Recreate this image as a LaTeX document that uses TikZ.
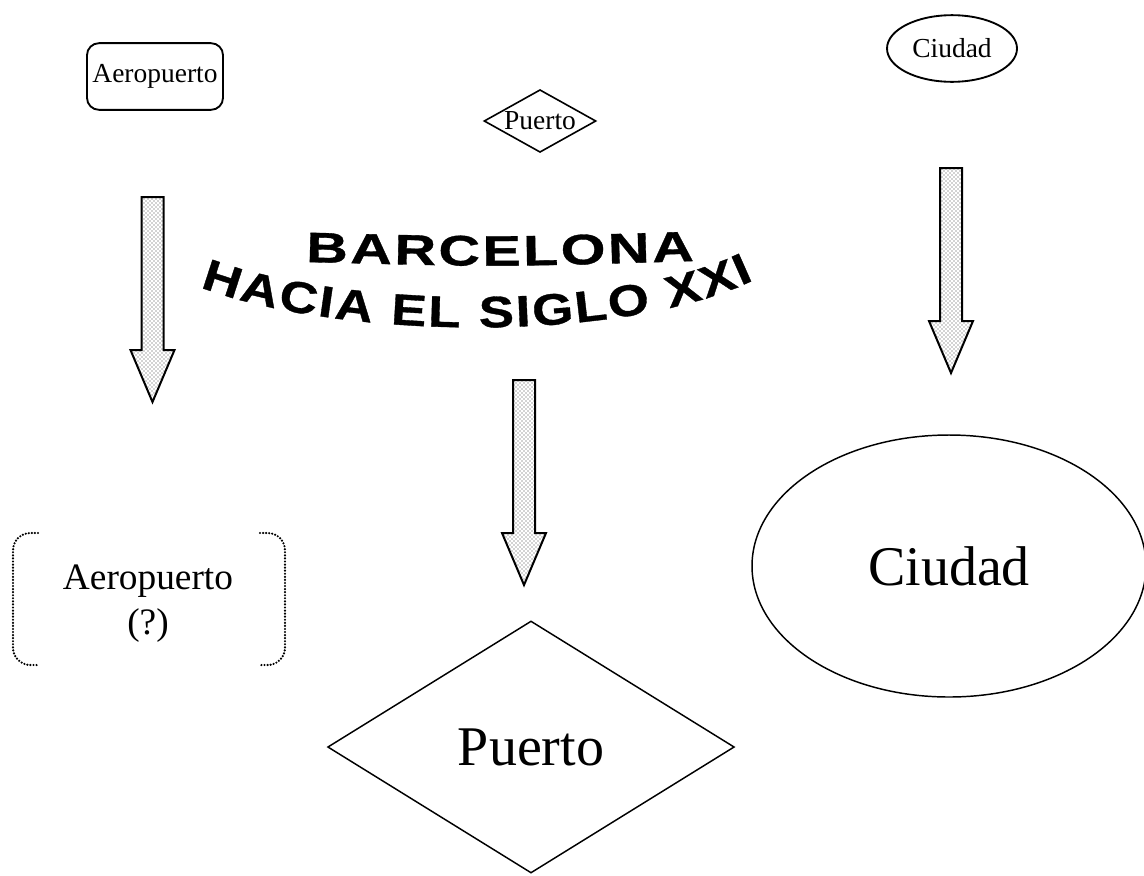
\documentclass[tikz,border=0pt]{standalone}
\usepackage{fontspec}
\setmainfont{Liberation Serif}
\newfontfamily\titlefontA[FakeStretch=1.35,BoldFeatures={FakeBold=0.8}]{Liberation Sans}
\newfontfamily\titlefontB[FakeStretch=1.2,BoldFeatures={FakeBold=0.8}]{Liberation Sans}
\usetikzlibrary{shapes.geometric,patterns,decorations.text}
\tikzset{
  smallfont/.style={font=\fontsize{20.6pt}{24pt}\selectfont},
  bigfont/.style={font=\fontsize{42pt}{48pt}\selectfont},
  smallbox/.style={draw, line width=1.4pt, rounded corners=9pt, minimum width=102pt, minimum height=50pt, inner sep=0pt, smallfont},
  smalldiam/.style={diamond, draw, line width=1.2pt, minimum width=84pt, minimum height=47pt, inner sep=0pt, smallfont},
  smallell/.style={ellipse, draw, line width=1.4pt, minimum width=97.5pt, minimum height=50pt, inner sep=0pt, smallfont},
  bigell/.style={ellipse, draw, line width=1.1pt, minimum width=295.5pt, minimum height=196.5pt, inner sep=0pt, bigfont},
  bigdiam/.style={diamond, draw, line width=1.1pt, minimum width=305pt, minimum height=189pt, inner sep=0pt, bigfont},
  bracketbox/.style={align=center, inner sep=0pt, font=\fontsize{28pt}{33.75pt}\selectfont},
  dotline/.style={line width=1.8pt, line cap=round, dash pattern=on 0pt off 2.3pt, rounded corners=13pt},
  arrowline/.style={line width=1.5pt, line join=miter, pattern=crosshatch dots, pattern color=black!75},
  pics/downarrow/.style={code={
    \draw[arrowline] (-11,0) -- (11,0) -- (11,153) -- (22,153) -- (0,205)
      -- (-22,153) -- (-11,153) -- cycle;
  }}
}
\begin{document}
\begin{tikzpicture}[x=0.75pt, y=-0.75pt]
\useasboundingbox (0,0) rectangle (1144,875);

% small top nodes
\node[smallbox] (aero1) at (155,76.5) {Aeropuerto};
\node[smalldiam] (puerto1) at (540,121) {\makebox[0pt]{Puerto}};
\node[smallell] (ciudad1) at (952,48.5) {Ciudad};

% block arrows
\pic (arrA) at (152.5,197) {downarrow};
\pic (arrP) at (524,380) {downarrow};
\pic (arrC) at (951,168) {downarrow};

% title on arch
\path[decorate, decoration={text along path, text align={fit to path},
  text={|\titlefontA\bfseries\fontsize{32pt}{32pt}\selectfont|BARCELONA}}]
  (306,262) .. controls (500,267) .. (694,261);
\path[decorate, decoration={text along path, text align={fit to path},
  text={|\titlefontB\bfseries\fontsize{33pt}{33pt}\selectfont|HACIA EL SIGLO XXI}}]
  (200,287) .. controls (330,337) and (612,347) .. (754,280);

% bottom nodes
\node[bracketbox] (aero2) at (148,604) {Aeropuerto\\(?)};
\draw[dotline] (38,533) -- (13,533) -- (13,665) -- (38,665);
\draw[dotline] (260,533) -- (285,533) -- (285,665) -- (260,665);

\node[bigdiam] (puerto2) at (531,747) {\makebox[0pt]{Puerto}};
\node[bigell] (ciudad2) at (949,566) {Ciudad};
\end{tikzpicture}
\end{document}
